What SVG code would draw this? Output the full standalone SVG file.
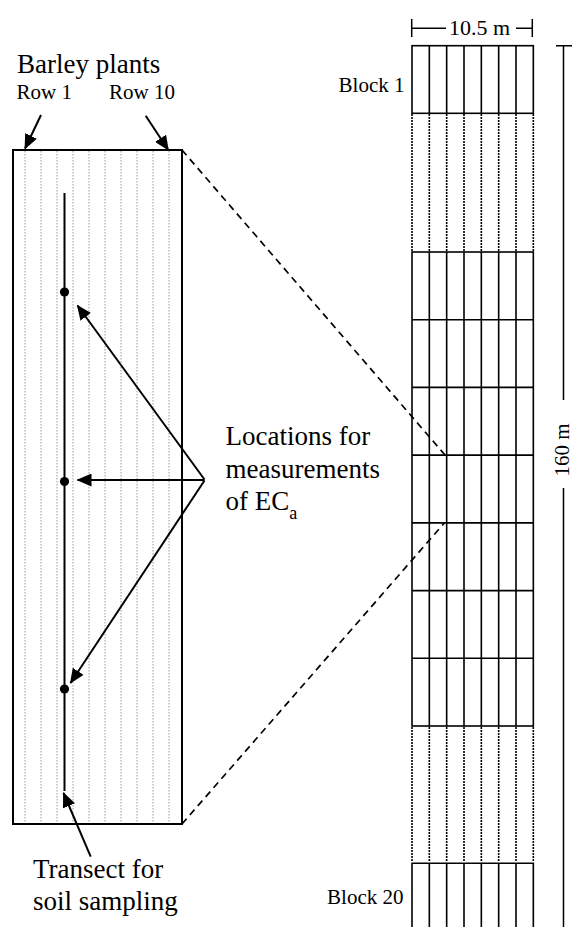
<svg xmlns="http://www.w3.org/2000/svg" width="573" height="927" viewBox="0 0 573 927">
  <style>
    .txt { font-family: "Liberation Serif", "Times New Roman", serif; fill: #000; }
    .big { font-size: 27px; }
    .small { font-size: 21px; }
    .edge { fill: none; stroke: #000; stroke-width: 2; }
    .grid { fill: none; stroke: #000; stroke-width: 1.6; }
    .row { stroke: #999; stroke-width: 1; stroke-dasharray: 1.5 1.5; }
    .gap { stroke: #000; stroke-width: 1.6; stroke-dasharray: 2 1; }
    .arrow { stroke: #000; stroke-width: 2; fill: none; marker-end: url(#head); }
    .dash { stroke: #000; stroke-width: 1.7; stroke-dasharray: 7 5; fill: none; }
    .dim { stroke: #000; stroke-width: 1.5; fill: none; }
  </style>
  <defs>
    <marker id="head" markerUnits="userSpaceOnUse" markerWidth="15" markerHeight="13" refX="14" refY="6.5" orient="auto">
      <path d="M0,0 L15,6.5 L0,13 z" fill="#000"/>
    </marker>
  </defs>

  <!-- Field plot with barley rows and sampling transect -->
  <g id="plot">
    <g id="plot-rows">
      <line class="row" x1="25" y1="151" x2="25" y2="823"/>
      <line class="row" x1="41" y1="151" x2="41" y2="823"/>
      <line class="row" x1="57" y1="151" x2="57" y2="823"/>
      <line class="row" x1="73" y1="151" x2="73" y2="823"/>
      <line class="row" x1="89" y1="151" x2="89" y2="823"/>
      <line class="row" x1="105" y1="151" x2="105" y2="823"/>
      <line class="row" x1="121" y1="151" x2="121" y2="823"/>
      <line class="row" x1="137" y1="151" x2="137" y2="823"/>
      <line class="row" x1="153" y1="151" x2="153" y2="823"/>
      <line class="row" x1="169" y1="151" x2="169" y2="823"/>
    </g>
    <rect class="edge" x="13" y="150" width="169" height="674"/>
    <line id="transect" x1="64.5" y1="193" x2="64.5" y2="791" stroke="#000" stroke-width="2"/>
    <circle cx="64.5" cy="292" r="4.6" fill="#000"/>
    <circle cx="64.5" cy="481.5" r="4.6" fill="#000"/>
    <circle cx="64.5" cy="689" r="4.6" fill="#000"/>
  </g>

  <!-- Labels -->
  <g id="label-barley">
    <text class="txt big" x="17" y="72.5">Barley plants</text>
    <text class="txt small" x="16.5" y="99">Row 1</text>
    <text class="txt small" x="109" y="99">Row 10</text>
  </g>
  <g id="label-ec">
    <text class="txt big" x="225.5" y="445">Locations for</text>
    <text class="txt big" x="225.5" y="477.5">measurements</text>
    <text class="txt big" x="225.5" y="510">of EC<tspan font-size="18" dy="9">a</tspan></text>
  </g>
  <g id="label-transect">
    <text class="txt big" x="33" y="877.5">Transect for</text>
    <text class="txt big" x="33" y="909.5">soil sampling</text>
  </g>

  <!-- Experimental blocks -->
  <g id="block-1">
    <rect class="grid" x="412" y="45.7" width="121.33" height="67.6"/>
    <path class="grid" d="M429.33,45.7V113.3M446.67,45.7V113.3M464,45.7V113.3M481.33,45.7V113.3M498.67,45.7V113.3M516,45.7V113.3"/>
    <text class="txt small" x="404.5" y="91.5" text-anchor="end">Block 1</text>
  </g>
  <g id="gap-upper">
    <path class="gap" d="M412,114V251M429.33,114V251M446.67,114V251M464,114V251M481.33,114V251M498.67,114V251M516,114V251M533.33,114V251"/>
  </g>
  <g id="blocks-middle">
    <rect class="grid" x="412" y="252" width="121.33" height="474"/>
    <path class="grid" d="M429.33,252V726M446.67,252V726M464,252V726M481.33,252V726M498.67,252V726M516,252V726"/>
    <path class="grid" d="M412,319.7H533.33M412,387.4H533.33M412,455.1H533.33M412,522.9H533.33M412,590.6H533.33M412,658.3H533.33"/>
  </g>
  <g id="gap-lower">
    <path class="gap" d="M412,727V862M429.33,727V862M446.67,727V862M464,727V862M481.33,727V862M498.67,727V862M516,727V862M533.33,727V862"/>
  </g>
  <g id="block-20">
    <path class="grid" d="M412,927V863.3H533.33V927M429.33,863.3V927M446.67,863.3V927M464,863.3V927M481.33,863.3V927M498.67,863.3V927M516,863.3V927"/>
    <text class="txt small" x="403.5" y="903.5" text-anchor="end">Block 20</text>
  </g>

  <!-- Dimensions -->
  <g id="dim-width">
    <path class="dim" d="M411.7,19V37M532.3,19V37M411.7,28.3H446M516,28.3H532.3"/>
    <text class="txt" font-size="22" x="449" y="34.5">10.5 m</text>
  </g>
  <g id="dim-length">
    <path class="dim" d="M556,45.7H572M563.5,45.7V400M563.5,488V927"/>
    <text class="txt" font-size="21" transform="translate(569,450) rotate(-90)" text-anchor="middle">160 m</text>
  </g>

  <!-- Connectors -->
  <g id="connectors">
    <line class="arrow" x1="41" y1="115" x2="25" y2="148.5"/>
    <line class="arrow" x1="145.7" y1="115.7" x2="168.3" y2="150"/>
    <line class="arrow" x1="204.5" y1="479.5" x2="77.5" y2="305.5"/>
    <line class="arrow" x1="204.5" y1="480" x2="77.5" y2="480"/>
    <line class="arrow" x1="204.5" y1="480.5" x2="70.5" y2="683"/>
    <line class="arrow" x1="90.7" y1="856.7" x2="63.5" y2="793"/>
    <line class="dash" x1="182" y1="150" x2="445" y2="455"/>
    <line class="dash" x1="182" y1="824" x2="444.3" y2="523"/>
  </g>
</svg>
